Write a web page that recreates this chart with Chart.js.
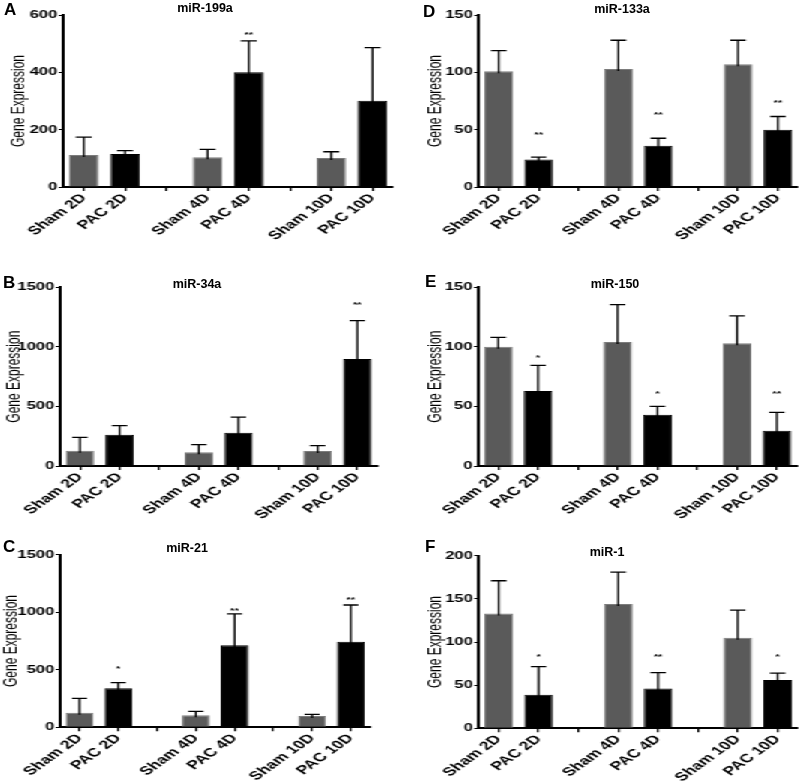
<!DOCTYPE html>
<html>
<head>
<meta charset="utf-8">
<script src="https://cdn.jsdelivr.net/npm/chart.js@4"></script>
<style>
body{margin:0;background:#fff;width:799px;height:781px;overflow:hidden;position:relative;font-family:"Liberation Sans",Arial,sans-serif;color:#000}
/* the published figure is stretched sideways, so draw narrow and widen */
#fig{position:absolute;left:0;top:0;width:533px;height:781px;transform:scaleX(1.5);transform-origin:0 0}
#fig canvas{position:absolute}
.letter{position:absolute;font-weight:bold;font-size:17px;line-height:1}
.title{position:absolute;font-weight:bold;font-size:12.5px;line-height:1;transform:translateX(-50%);white-space:nowrap}
</style>
</head>
<body>
<div id="fig">
  <canvas id="cA" width="266" height="260" style="left:0;top:0"></canvas>
  <canvas id="cD" width="267" height="260" style="left:266px;top:0"></canvas>
  <canvas id="cB" width="266" height="260" style="left:0;top:260px"></canvas>
  <canvas id="cE" width="267" height="260" style="left:266px;top:260px"></canvas>
  <canvas id="cC" width="266" height="261" style="left:0;top:520px"></canvas>
  <canvas id="cF" width="267" height="261" style="left:266px;top:520px"></canvas>
</div>

<div class="letter" style="left:4px;top:1px">A</div>
<div class="letter" style="left:423px;top:3px">D</div>
<div class="letter" style="left:3px;top:274px">B</div>
<div class="letter" style="left:425px;top:273px">E</div>
<div class="letter" style="left:3px;top:538px">C</div>
<div class="letter" style="left:425px;top:538px">F</div>

<div class="title" style="left:205px;top:2.4px">miR-199a</div>
<div class="title" style="left:622px;top:3.4px">miR-133a</div>
<div class="title" style="left:197px;top:278.4px">miR-34a</div>
<div class="title" style="left:615px;top:278.4px">miR-150</div>
<div class="title" style="left:187px;top:541.7px">miR-21</div>
<div class="title" style="left:607px;top:546.4px">miR-1</div>

<script>
// =====================
// DATA
// =====================
const categories = ["Sham 2D", "PAC 2D", "", "Sham 4D", "PAC 4D", "", "Sham 10D", "PAC 10D"]
const barColors = ["#5a5a5a", "#000000", null, "#5a5a5a", "#000000", null, "#5a5a5a", "#000000"]

// A - miR-199a
const valuesA = [112, 115, null, 104, 400, null, 101, 301]
const errorsA = [62, 12, null, 27, 110, null, 22, 185]
const starsA = ["", "", "", "", "**", "", "", ""]
const starYA = [0, 0, 0, 0, 537, 0, 0, 0]

// D - miR-133a
const valuesD = [101, 24, null, 103, 36, null, 107, 50]
const errorsD = [18, 2, null, 25, 6.5, null, 21, 11.5]
const starsD = ["", "**", "", "", "**", "", "", "**"]
const starYD = [0, 47, 0, 0, 64.5, 0, 0, 75]

// B - miR-34a
const valuesB = [129, 263, null, 115, 280, null, 126, 898]
const errorsB = [112, 76, null, 64, 131, null, 45, 322]
const starsB = ["", "", "", "", "", "", "", "**"]
const starYB = [0, 0, 0, 0, 0, 0, 0, 1371]

// E - miR-150
const valuesE = [100, 63, null, 104, 43, null, 103, 29.5]
const errorsE = [8, 21.5, null, 31.5, 7, null, 23, 15.5]
const starsE = ["", "*", "", "", "*", "", "", "**"]
const starYE = [0, 92.6, 0, 0, 62.4, 0, 0, 62.4]

// C - miR-21
const valuesC = [127, 339, null, 104, 712, null, 98, 744]
const errorsC = [125, 49, null, 35, 273, null, 15, 319]
const starsC = ["", "*", "", "", "**", "", "", "**"]
const starYC = [0, 527, 0, 0, 1034, 0, 0, 1129]

// F - miR-1
const valuesF = [133, 39, null, 144, 46, null, 105, 56]
const errorsF = [38, 32.5, null, 37, 18.5, null, 32, 8]
const starsF = ["", "*", "", "", "**", "", "", "*"]
const starYF = [0, 85, 0, 0, 85, 0, 0, 85]

// =====================
// ERROR BARS + STARS
// =====================
const errorBars = {
  id: "errorBars",
  afterDatasetsDraw(chart){
    const ds = chart.data.datasets[0]
    const meta = chart.getDatasetMeta(0)
    const y = chart.scales.y
    const ctx = chart.ctx
    ctx.save()
    ctx.strokeStyle = "#000"
    ctx.fillStyle = "#000"
    ctx.lineWidth = 1.3
    ctx.font = "bold 7.5px 'Liberation Sans', Arial, sans-serif"
    ctx.textAlign = "center"
    ctx.textBaseline = "alphabetic"
    meta.data.forEach((bar, i) => {
      const v = ds.data[i]
      if (v == null) return
      const yBar = y.getPixelForValue(v)
      const yTop = y.getPixelForValue(v + ds.errors[i])
      const half = bar.width * 0.27
      ctx.beginPath()
      ctx.moveTo(bar.x, yBar + 2)
      ctx.lineTo(bar.x, yTop)
      ctx.moveTo(bar.x - half, yTop)
      ctx.lineTo(bar.x + half, yTop)
      ctx.stroke()
      if (ds.stars[i]) ctx.fillText(ds.stars[i], bar.x, y.getPixelForValue(ds.starY[i]) + 4.3)
    })
    ctx.restore()
  }
}

// =====================
// PANELS
// =====================
const panels = [
  {id: "cA", values: valuesA, errors: errorsA, stars: starsA, starY: starYA, max: 600, step: 200, top: 15, right: 4, yWidth: 42, xHeight: 73, titlePad: 5},
  {id: "cD", values: valuesD, errors: errorsD, stars: starsD, starY: starYD, max: 150, step: 50, top: 15, right: 1, yWidth: 53.3, xHeight: 73, titlePad: 17},
  {id: "cB", values: valuesB, errors: errorsB, stars: starsB, starY: starYB, max: 1500, step: 500, top: 27.3, right: 14.7, yWidth: 40, xHeight: 54, titlePad: 2.5},
  {id: "cE", values: valuesE, errors: errorsE, stars: starsE, starY: starYE, max: 150, step: 50, top: 27.3, right: 1.7, yWidth: 53, xHeight: 54, titlePad: 17},
  {id: "cC", values: valuesC, errors: errorsC, stars: starsC, starY: starYC, max: 1500, step: 500, top: 34.7, right: 19.3, yWidth: 40, xHeight: 53.7, titlePad: 0},
  {id: "cF", values: valuesF, errors: errorsF, stars: starsF, starY: starYF, max: 200, step: 50, top: 35.7, right: 1.2, yWidth: 53.3, xHeight: 52.7, titlePad: 17}
]

Chart.defaults.font.family = "'Liberation Sans', Arial, sans-serif"
Chart.defaults.color = "#000"

panels.forEach(p => {
  new Chart(document.getElementById(p.id), {
    type: "bar",
    data: {
      labels: categories,
      datasets: [{
        data: p.values,
        errors: p.errors,
        stars: p.stars,
        starY: p.starY,
        backgroundColor: barColors,
        borderColor: barColors.map(c => c === "#5a5a5a" ? "#7c7c7c" : c),
        borderWidth: 1,
        borderSkipped: "bottom",
        barPercentage: 0.72,
        categoryPercentage: 1
      }]
    },
    options: {
      responsive: false,
      animation: false,
      events: [],
      layout: {padding: {top: p.top, right: p.right, left: 0, bottom: 0}},
      plugins: {legend: {display: false}, tooltip: {enabled: false}, title: {display: false}},
      scales: {
        x: {
          afterFit: s => { s.height = p.xHeight },
          grid: {offset: false, drawOnChartArea: false, tickLength: 4, color: "#000", lineWidth: 1.3},
          border: {color: "#000", width: 2},
          ticks: {autoSkip: false, maxRotation: 47, minRotation: 47, padding: 0, color: "#000", font: {size: 12, weight: "bold"}}
        },
        y: {
          min: 0,
          max: p.max,
          afterFit: s => { s.width = p.yWidth },
          grid: {drawOnChartArea: false, tickLength: 3, color: "#000", lineWidth: 1},
          border: {color: "#000", width: 2},
          ticks: {stepSize: p.step, padding: 1, color: "#000", font: {size: 11, weight: "bold"}, callback: v => String(v)},
          title: {display: true, text: "Gene Expression", color: "#000", font: {size: 12}, padding: {top: p.titlePad, bottom: 0}}
        }
      }
    },
    plugins: [errorBars]
  })
})
</script>
</body>
</html>
